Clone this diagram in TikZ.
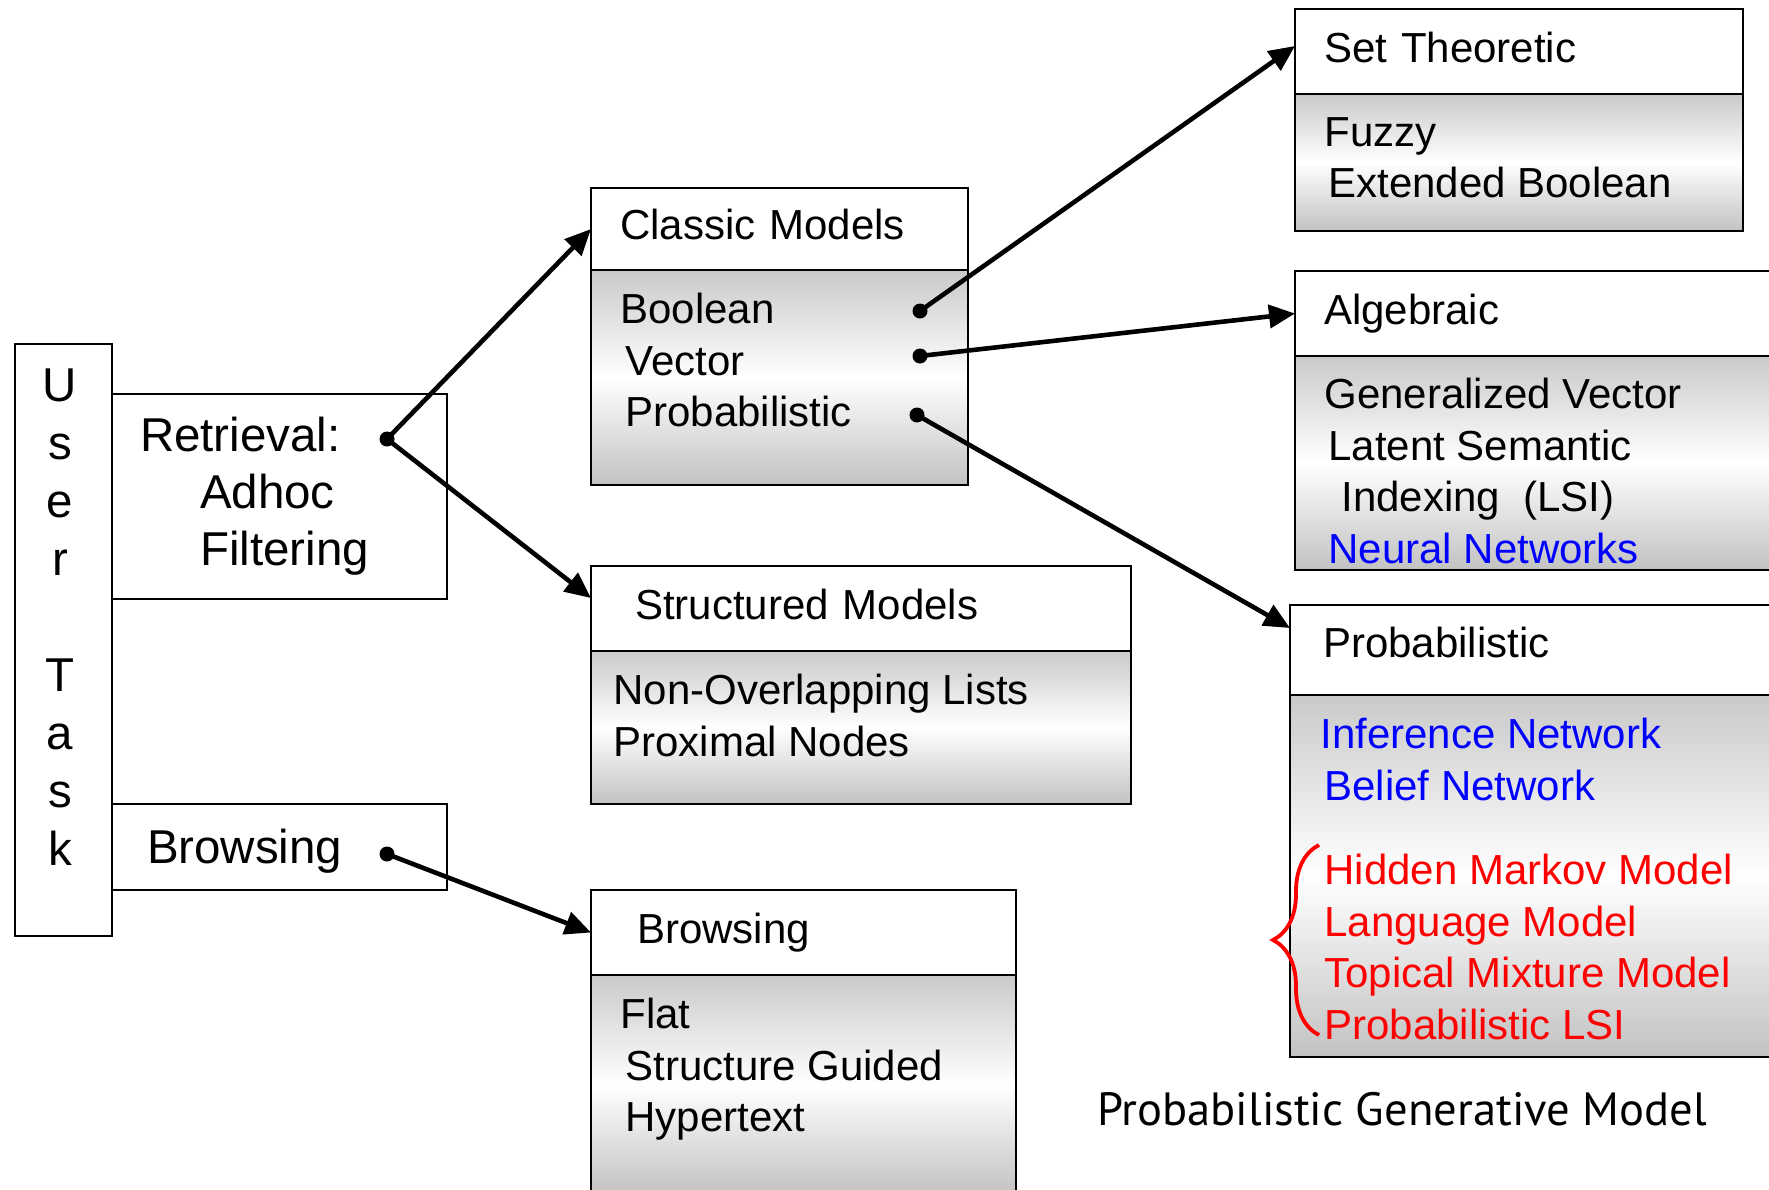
\documentclass[tikz,border=0pt]{standalone}
\usepackage{fontspec}
\setmainfont{Liberation Sans}
\newfontfamily\captionfont{PT Sans}
\usetikzlibrary{arrows.meta}
\usetikzlibrary{positioning}
\usetikzlibrary{decorations.pathreplacing}

\tikzset{
    head/.style={draw, line width=1pt, fill=white, anchor=north west, outer sep=0pt,
        inner xsep=14.5pt, inner ysep=0pt, align=left, text height=15pt, text depth=4.5pt,
        font=\fontsize{21pt}{25.75pt}\selectfont},
    body/.style={draw, line width=1pt, top color=black!21, bottom color=black!24,
        middle color=white, inner sep=0pt, outer sep=0pt},
    items/.style={anchor=north west, inner sep=0pt, align=left,
        font=\fontsize{21pt}{25.75pt}\selectfont},
    task/.style={draw, line width=1pt, fill=white, anchor=north west, outer sep=0pt,
        inner ysep=0pt, align=left, font=\fontsize{23.75pt}{28.5pt}\selectfont},
    dot/.style={circle, fill, inner sep=0pt, minimum size=7.5pt},
    link/.style={line width=2.3pt, -{Triangle[length=13pt,width=11.5pt]}}
}

\begin{document}
\begin{tikzpicture}[x=0.5pt,y=-0.5pt]
    \useasboundingbox (0,0) rectangle (1769,1190);

    % user task column
    \node[task, minimum width=48.5pt, minimum height=296pt] (user) at (15,344) {};
    \node[anchor=north, inner sep=0pt, align=center,
        font=\fontsize{23.75pt}{29pt}\selectfont] (tasklabel) at (60,368)
        {U\\s\\e\\r\\[29pt]T\\a\\s\\k};
    \node[task, text width=139.5pt, inner xsep=14pt, minimum height=102.5pt] (retrieval) at (112,394)
        {Retrieval:\\\hspace*{30pt}Adhoc\\\hspace*{30pt}Filtering};
    \node[task, text width=132.5pt, inner xsep=17.5pt, minimum height=43pt,
        text height=17pt, text depth=1pt] (browse) at (112,804) {Browsing};

    % middle column
    \node[head, text width=159.5pt, minimum height=41pt] (classic) at (591,188) {Classic Models};
    \node[body, below=0pt of classic, minimum width=188.5pt, minimum height=107.5pt] (classicbody) {};
    \node[items, below right=11.5pt and 14.5pt of classicbody.north west] (classiclist)
        {Boolean\\\hspace*{2.5pt}Vector\\\hspace*{2.5pt}Probabilistic};

    \node[head, text width=241pt, minimum height=42.5pt] (struct) at (591,566)
        {\hspace*{7.5pt}Structured Models};
    \node[body, below=0pt of struct, minimum width=270pt, minimum height=76.5pt] (structbody) {};
    \node[items, below right=11.5pt and 11pt of structbody.north west] (structlist)
        {Non-Overlapping Lists\\Proximal Nodes};

    \node[head, text width=183.5pt, minimum height=42.5pt] (browsemodels) at (591,890)
        {\hspace*{8.5pt}Browsing};
    \node[body, below=0pt of browsemodels, minimum width=212.5pt, minimum height=110pt] (browsebody) {};
    \node[items, below right=11.5pt and 14.5pt of browsebody.north west] (browselist)
        {Flat\\\hspace*{2.5pt}Structure Guided\\\hspace*{2.5pt}Hypertext};

    % right column
    \node[head, text width=195pt, minimum height=42.5pt] (settheo) at (1295,9) {Set Theoretic};
    \node[body, below=0pt of settheo, minimum width=224pt, minimum height=68.5pt] (settheobody) {};
    \node[items, below right=11.5pt and 14.5pt of settheobody.north west] (settheolist)
        {Fuzzy\\\hspace*{2pt}Extended Boolean};

    \node[head, text width=223.5pt, minimum height=42.5pt] (algebraic) at (1295,271) {Algebraic};
    \node[body, below=0pt of algebraic, minimum width=252.5pt, minimum height=107pt] (algebraicbody) {};
    \node[items, below right=11pt and 14.5pt of algebraicbody.north west] (algebraiclist)
        {Generalized Vector\\\hspace*{2pt}Latent Semantic\\\hspace*{8.5pt}Indexing\ \ (LSI)\\
         \hspace*{2pt}\textcolor{blue}{Neural Networks}};

    \node[head, text width=226pt, minimum height=45pt, text depth=8pt] (prob) at (1290,605)
        {\hspace*{2pt}Probabilistic};
    \node[body, below=0pt of prob, minimum width=255pt, minimum height=181pt] (probbody) {};
    \node[items, text=blue, below right=11.5pt and 15pt of probbody.north west] (bluelist)
        {Inference Network\\\hspace*{2pt}Belief Network};
    \node[items, text=red, below right=79.5pt and 17pt of probbody.north west] (redlist)
        {Hidden Markov Model\\Language Model\\Topical Mixture Model\\Probabilistic LSI};
    \draw[red, line width=1.9pt, decorate, decoration={brace, amplitude=23pt}]
        (1319,1035) -- (1319,845);

    \node[font=\captionfont\fontsize{23.3pt}{27pt}\selectfont] (caption) at (1402,1109)
        {Probabilistic Generative Model};

    % dots and arrows
    \node[dot] (retrdot) at (387,439) {};
    \node[dot] (browsedot) at (387,854) {};
    \node[dot] (booldot) at (920,311) {};
    \node[dot] (vecdot) at (920,356) {};
    \node[dot] (probdot) at (917,415) {};

    \draw[link] (retrdot.center) -- (classic.west);
    \draw[link] (retrdot.center) -- ([yshift=-16pt]struct.north west);
    \draw[link] (browsedot.center) -- (browsemodels.west);
    \draw[link] (booldot.center) -- ([yshift=-18.5pt]settheo.north west);
    \draw[link] (vecdot.center) -- (algebraic.west);
    \draw[link] (probdot.center) -- ([yshift=-11.5pt]prob.north west);
\end{tikzpicture}
\end{document}
